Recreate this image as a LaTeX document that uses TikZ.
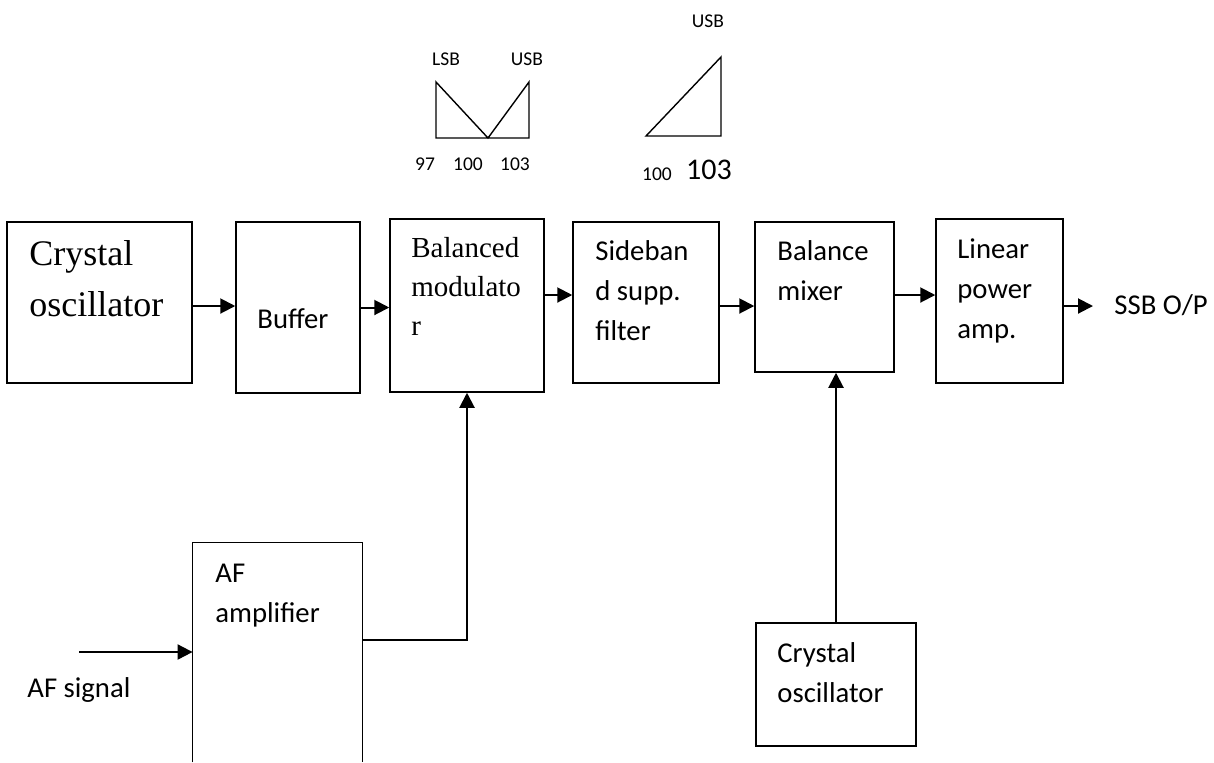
\documentclass[tikz,border=0pt]{standalone}
\usepackage{fontspec}
\setmainfont{Carlito}
\newfontfamily\timesfont{Liberation Serif}
\usepackage{tikz}
\usetikzlibrary{
  arrows.meta,
  positioning,
  fit
}
\tikzset{
  blockbox/.style={
    draw=black,
    line width=0.75pt,
    inner sep=0pt,
  },
  blocktext/.style={
    inner sep=0pt,
    anchor=base west,
    align=left,
    font=\fontsize{14.35}{20}\selectfont,
  },
  serifbig/.style={
    blocktext,
    font=\timesfont\fontsize{18}{25.5}\selectfont,
  },
  serifmid/.style={
    blocktext,
    font=\timesfont\fontsize{14.5}{19.5}\selectfont,
  },
  speclbl/.style={
    inner sep=0pt,
    anchor=base,
    font=\fontsize{9.75}{12}\selectfont,
  },
  arr/.style={
    -{Triangle[length=7.5pt, width=7.5pt]},
    line width=1pt,
  },
  spec/.style={
    line width=0.7pt,
    line join=miter,
  },
}

\begin{document}
\begin{tikzpicture}[x=0.5pt, y=-0.5pt]
  \useasboundingbox (0,0) rectangle (1214,762);

  % Spectra above the chain
  \draw[spec] (436,82) -- (436,138) -- (529,138) -- (529,82) -- (488,138) -- cycle;
  \node[speclbl] (lsb) at (446,65) {LSB};
  \node[speclbl] (usbA) at (527,65) {USB};
  \node[speclbl] (fA) at (425,170) {97};
  \node[speclbl] (fB) at (468,170) {100};
  \node[speclbl] (fC) at (515,170) {103};

  \draw[spec] (646,136) -- (721,57) -- (721,136) -- cycle;
  \node[speclbl] (usbB) at (708,27) {USB};
  \node[speclbl] (fD) at (657,180) {100};
  \node[speclbl, font=\fontsize{15}{16}\selectfont] (fE) at (709,179) {103};

  % Row 1 — main chain (text nodes sit on their last baseline)
  \node[blockbox, fit={(7,222)(192,383)}] (xtal) {};
  \node[blockbox, fit={(236,222)(360,393)}] (buffer) {};
  \node[blockbox, fit={(390,219)(544,392)}] (balmod) {};
  \node[blockbox, fit={(573,222)(719,383)}] (sbfilter) {};
  \node[blockbox, fit={(755,222)(894,372)}] (mixer) {};
  \node[blockbox, fit={(936,219)(1063,383)}] (linamp) {};

  \node[serifbig] (xtaltxt) at (29,316) {Crystal\\oscillator};
  \node[blocktext] (buftxt) at (257,328) {Buffer};
  \node[serifmid] (baltxt) at (411,335) {Balanced\\modulato\\r};
  \node[blocktext] (sbtxt) at (595,340) {Sideban\\d supp.\\filter};
  \node[blocktext] (mixtxt) at (777,300) {Balance\\mixer};
  \node[blocktext] (lintxt) at (957,338) {Linear\\power\\amp.};
  \node[blocktext, inner xsep=10.5pt] (ssb) at (1093,314) {SSB O/P};

  \draw[arr] ([yshift=-1.75pt]xtal.east) -- ([yshift=-1.75pt]xtal.east -| buffer.west);
  \draw[arr] (buffer.east) -- (buffer.east -| balmod.west);
  \draw[arr] ([yshift=5.25pt]balmod.east) -- ([yshift=5.25pt]balmod.east -| sbfilter.west);
  \draw[arr] ([yshift=-1.75pt]sbfilter.east) -- ([yshift=-1.75pt]sbfilter.east -| mixer.west);
  \draw[arr] ([yshift=1pt]mixer.east) -- ([yshift=1pt]mixer.east -| linamp.west);
  \draw[arr] ([yshift=-2.5pt]linamp.east) -- ([yshift=-2.5pt]linamp.east -| ssb.west);

  % Row 2 — AF path and second oscillator
  \node[inner sep=0pt, fit={(193,543)(362,762)}] (afamp) {};
  \draw[line width=0.75pt] (afamp.south west) |- (afamp.north east) -- (afamp.south east);
  \node[blocktext] (aftxt) at (215,622) {AF\\amplifier};
  \coordinate (afin) at (79,652);
  \node[blocktext] (afsig) at (27,697) {AF signal};

  \node[blockbox, fit={(756,623)(916,746)}] (xtal2) {};
  \node[blocktext] (xtal2txt) at (777,702) {Crystal\\oscillator};

  \draw[arr] (afin) -- (afin -| afamp.west);
  \draw[arr] ([yshift=6.25pt]afamp.east) -| (balmod.south);
  \draw[arr] (xtal2.north) -- (xtal2.north |- mixer.south);
\end{tikzpicture}
\end{document}
